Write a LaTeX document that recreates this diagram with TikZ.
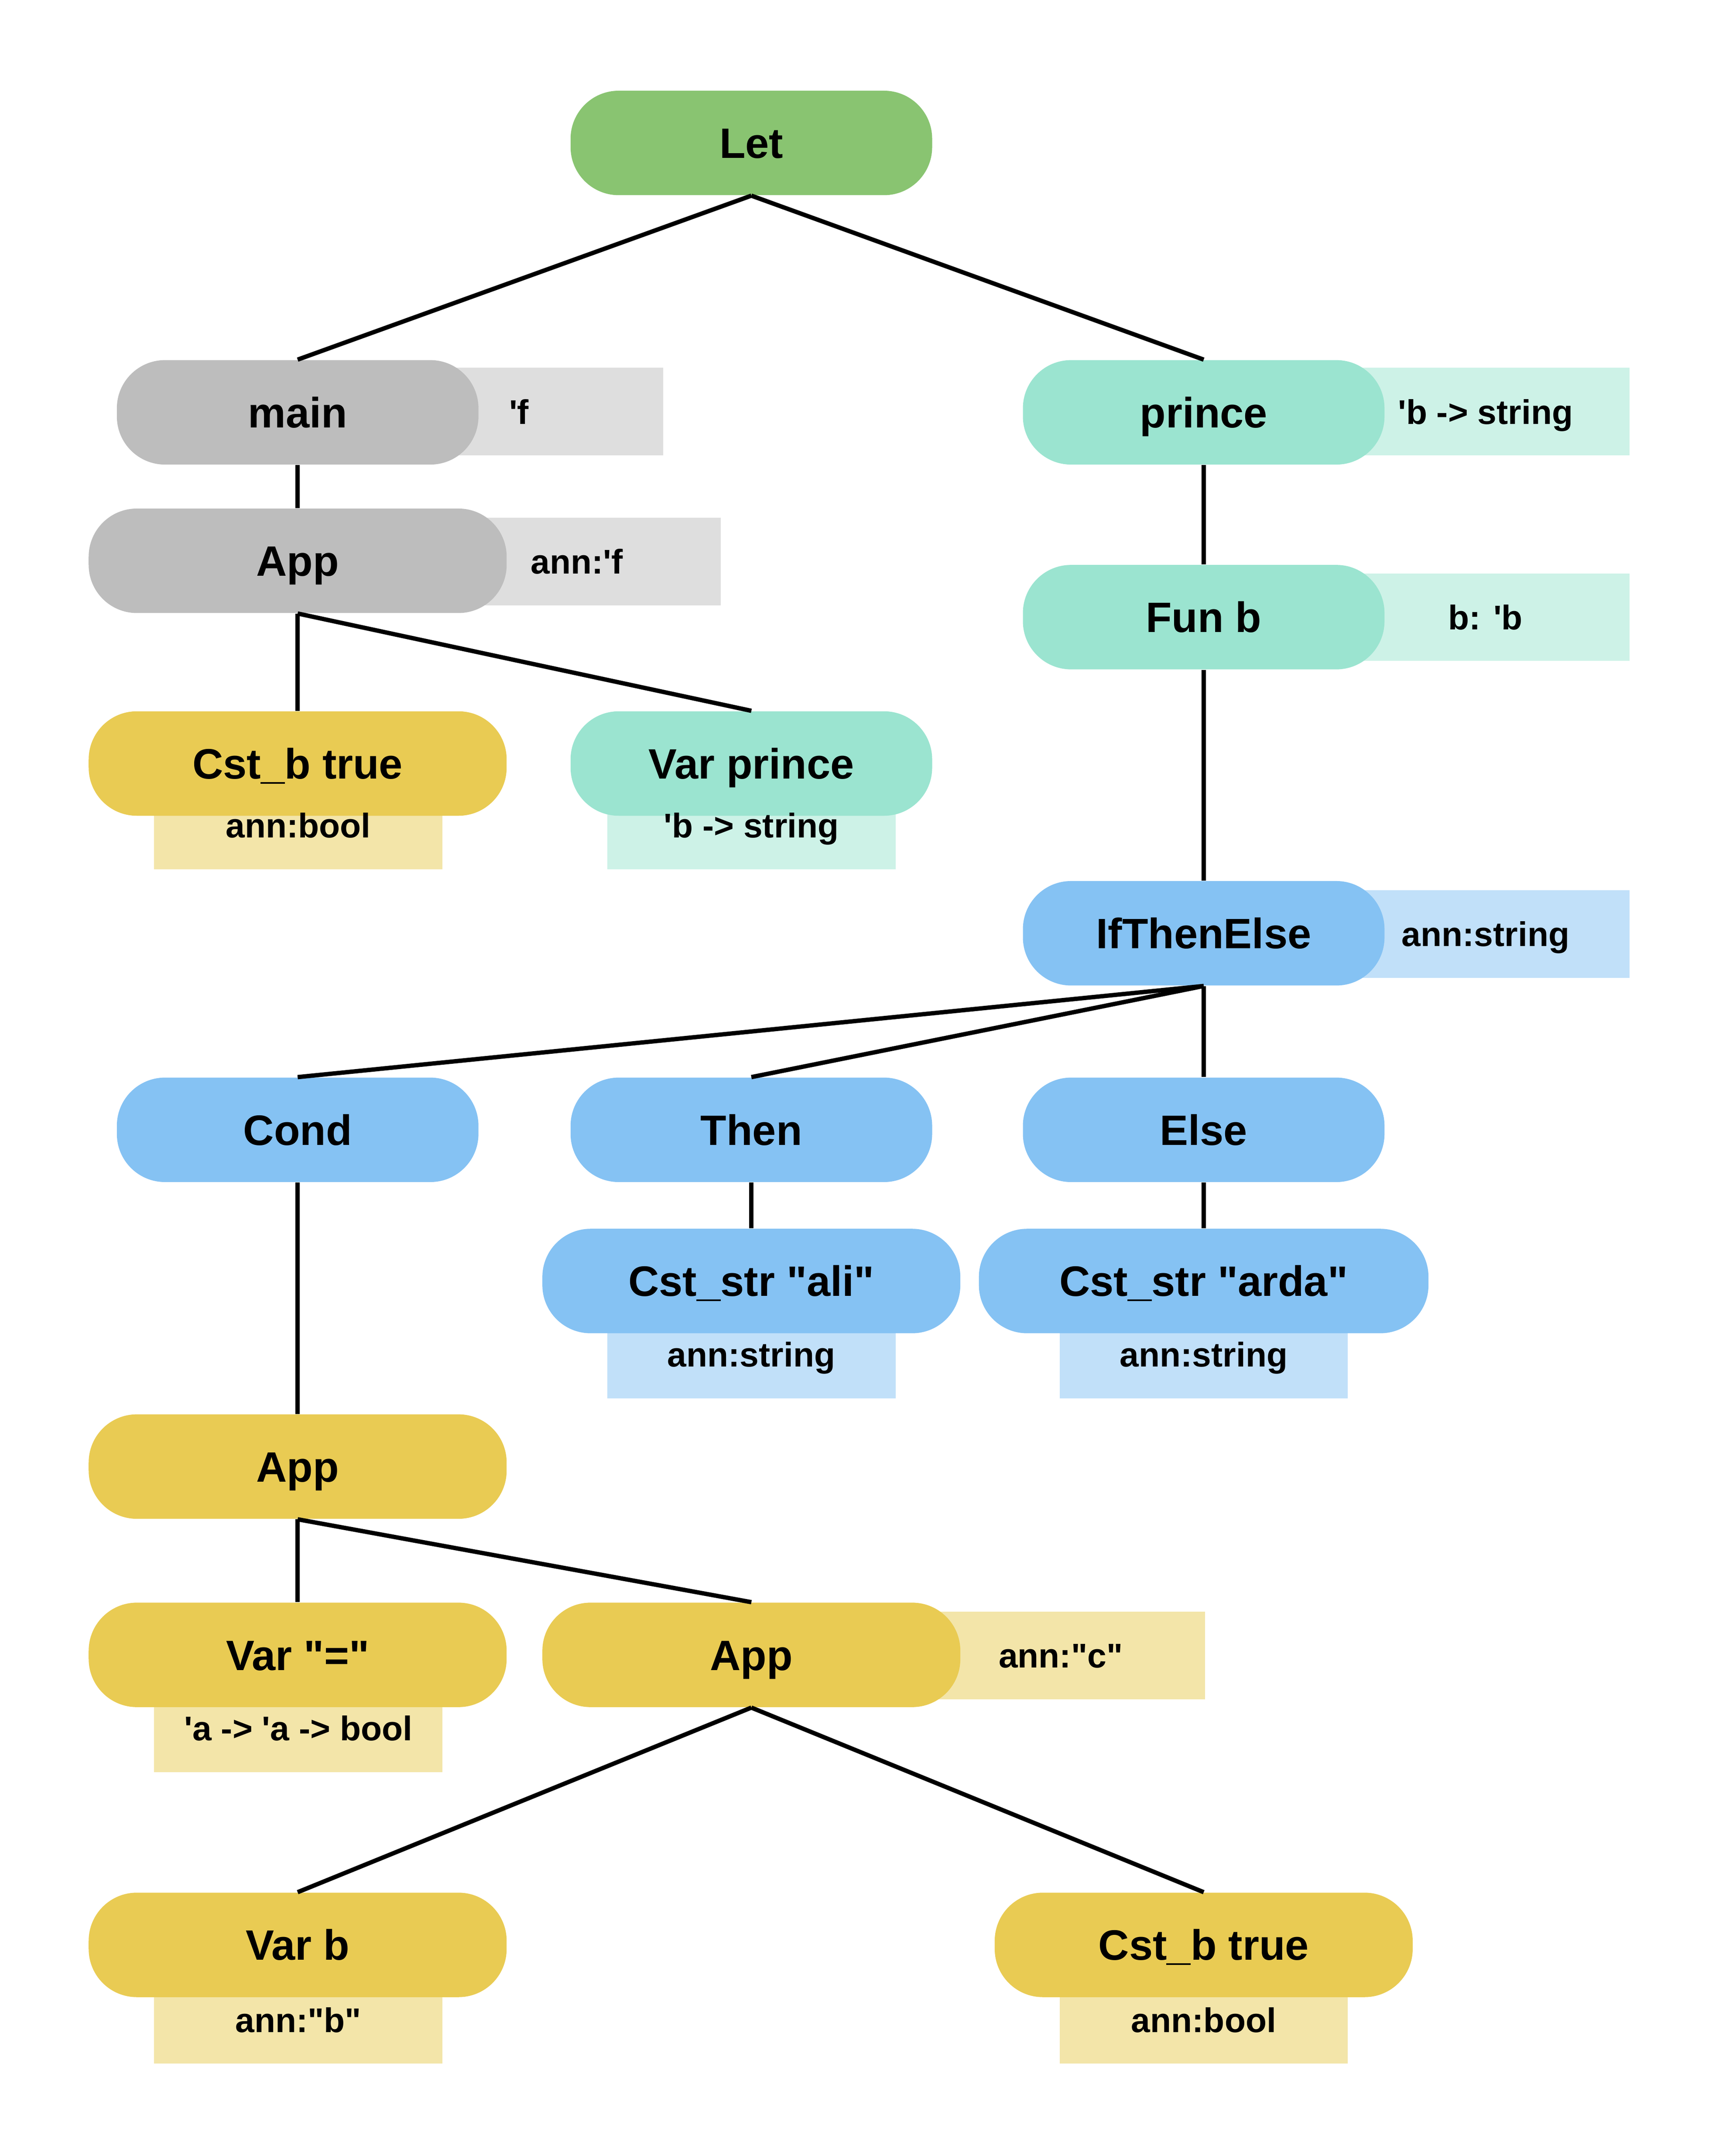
\documentclass[tikz,border=0pt]{standalone}
\usepackage{fontspec}
\setmainfont{Liberation Sans}[Ligatures=TeXOff]
\usepackage{tikz}
\usetikzlibrary{positioning, backgrounds}
\definecolor{LetGreen}{HTML}{89C471}
\definecolor{PillGray}{HTML}{BDBDBD}
\definecolor{AnnGray}{HTML}{DEDEDE}
\definecolor{PillTeal}{HTML}{9BE4D0}
\definecolor{AnnTeal}{HTML}{CDF2E7}
\definecolor{PillBlue}{HTML}{85C2F3}
\definecolor{AnnBlue}{HTML}{C1E0F9}
\definecolor{PillYellow}{HTML}{E9CB53}
\definecolor{AnnYellow}{HTML}{F3E5A9}
\tikzset{
  % Pill styles
  pill/.style={rectangle, rounded corners=7mm, minimum width=52.6mm, minimum height=15.2mm, inner sep=0pt, font=\fontsize{17.6}{20}\selectfont\bfseries, text height=12.6pt, text depth=0pt, align=center},
  widepill/.style={pill, minimum width=60.8mm},
  greenpill/.style={pill, fill=LetGreen},
  graypill/.style={pill, fill=PillGray},
  tealpill/.style={pill, fill=PillTeal},
  bluepill/.style={pill, fill=PillBlue},
  yellowpill/.style={pill, fill=PillYellow},
  % Annotation styles (boxes are filled on the background layer)
  annbox/.style={rectangle, minimum width=41.8mm, minimum height=12.6mm, inner sep=0pt, font=\fontsize{14.2}{16}\selectfont\bfseries, text height=10.2pt, text depth=0pt},
  % Edge style
  edge/.style={line width=1.8pt, black}
}

\begin{document}
\begin{tikzpicture}[x=0.2mm, y=-0.2mm]
  \useasboundingbox (0,0) rectangle (1250,1568.6);

  % Tree nodes
  \node[greenpill] (let) at (546.5,104) {Let};
  \node[graypill] (main) at (216.5,300) {main};
  \node[graypill, widepill] (app) at (216.5,408) {App};
  \node[yellowpill, widepill] (cstb) at (216.5,555.5) {Cst\_b true};
  \node[tealpill] (varprince) at (546.5,555.5) {Var prince};
  \node[tealpill] (prince) at (875.5,300) {prince};
  \node[tealpill] (funb) at (875.5,449) {Fun b};
  \node[bluepill] (ite) at (875.5,679) {IfThenElse};
  \node[bluepill] (cond) at (216.5,822) {Cond};
  \node[bluepill] (then) at (546.5,822) {Then};
  \node[bluepill] (else) at (875.5,822) {Else};
  \node[bluepill, widepill] (ali) at (546.5,932) {Cst\_str "ali"};
  \node[bluepill, minimum width=65.4mm] (arda) at (875.5,932) {Cst\_str "arda"};
  \node[yellowpill, widepill] (appcond) at (216.5,1067) {App};
  \node[yellowpill, widepill] (vareq) at (216.5,1204) {Var "="};
  \node[yellowpill, widepill] (apptwo) at (546.5,1204) {App};
  \node[yellowpill, widepill] (varb) at (216.5,1415) {Var b};
  \node[yellowpill, widepill] (cstbtwo) at (875.5,1415) {Cst\_b true};

  % Annotations
  \node[annbox] (mainann) at (377.5,299.5) {'f};
  \node[annbox] (appann) at (419.5,408.5) {ann:'f};
  \node[annbox] (cstbann) at (217,600.5) {ann:bool};
  \node[annbox] (varprinceann) at (546.5,600.5) {'b -> string};
  \node[annbox] (princeann) at (1080.5,299.5) {'b -> string};
  \node[annbox] (funbann) at (1080.5,449) {b: 'b};
  \node[annbox] (iteann) at (1080.5,679.5) {ann:string};
  \node[annbox] (aliann) at (546.5,985.5) {ann:string};
  \node[annbox] (ardaann) at (875.5,985.5) {ann:string};
  \node[annbox] (eqann) at (217,1257.5) {'a -> 'a -> bool};
  \node[annbox] (apptwoann) at (771.5,1204.5) {ann:"c"};
  \node[annbox] (varbann) at (217,1469.5) {ann:"b"};
  \node[annbox] (cstbtwoann) at (875.5,1469.5) {ann:bool};

  \begin{scope}[on background layer]
    \foreach \ann/\col in {mainann/AnnGray, appann/AnnGray, cstbann/AnnYellow, varprinceann/AnnTeal,
        princeann/AnnTeal, funbann/AnnTeal, iteann/AnnBlue, aliann/AnnBlue, ardaann/AnnBlue,
        eqann/AnnYellow, apptwoann/AnnYellow, varbann/AnnYellow, cstbtwoann/AnnYellow} {
      \fill[\col] (\ann.south west) rectangle (\ann.north east);
    }
  \end{scope}

  % Edges
  \draw[edge] (let.south) -- (main.north);
  \draw[edge] (let.south) -- (prince.north);
  \draw[edge] (main.south) -- (app.north);
  \draw[edge] (app.south) -- (cstb.north);
  \draw[edge] (app.south) -- (varprince.north);
  \draw[edge] (prince.south) -- (funb.north);
  \draw[edge] (funb.south) -- (ite.north);
  \draw[edge] (ite.south) -- (cond.north);
  \draw[edge] (ite.south) -- (then.north);
  \draw[edge] (ite.south) -- (else.north);
  \draw[edge] (then.south) -- (ali.north);
  \draw[edge] (else.south) -- (arda.north);
  \draw[edge] (cond.south) -- (appcond.north);
  \draw[edge] (appcond.south) -- (vareq.north);
  \draw[edge] (appcond.south) -- (apptwo.north);
  \draw[edge] (apptwo.south) -- (varb.north);
  \draw[edge] (apptwo.south) -- (cstbtwo.north);
\end{tikzpicture}
\end{document}
